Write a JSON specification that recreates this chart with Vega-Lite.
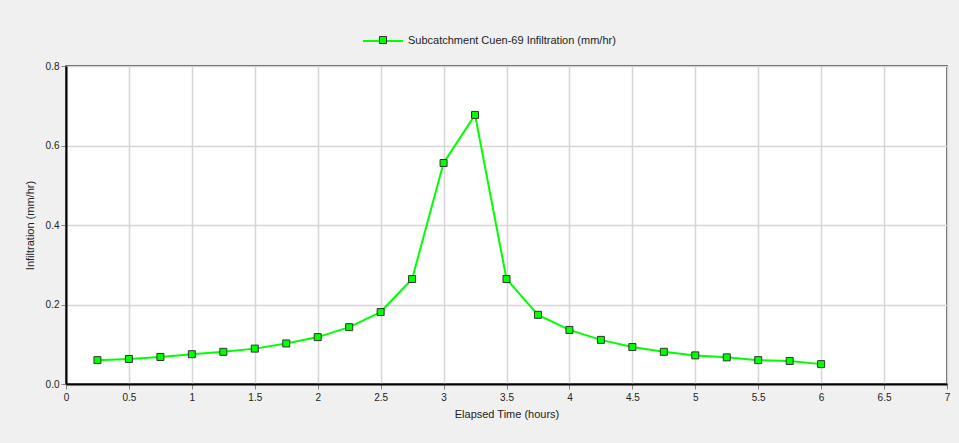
{
  "$schema": "https://vega.github.io/schema/vega-lite/v6.json",
  "autosize": {"type": "none"},
  "width": 881,
  "height": 318,
  "padding": {"left": 66, "top": 66, "right": 12, "bottom": 59},
  "background": "#f0f0f0",
  "view": {"fill": "white", "stroke": "#222", "strokeWidth": 1.5},
  "config": {
    "font": "Liberation Sans",
    "axis": {
      "labelFont": "Liberation Sans",
      "labelFontSize": 10,
      "labelColor": "#222",
      "titleFont": "Liberation Sans",
      "titleFontSize": 11,
      "titleFontWeight": "normal",
      "titleColor": "#222",
      "gridColor": "#d6d6d6",
      "gridWidth": 1.5,
      "domainColor": "#000",
      "domainWidth": 2,
      "tickColor": "#888",
      "tickSize": 5
    }
  },
  "data": {
    "values": [
      {"t": 0.25, "v": 0.060},
      {"t": 0.5, "v": 0.063},
      {"t": 0.75, "v": 0.068},
      {"t": 1.0, "v": 0.075},
      {"t": 1.25, "v": 0.081},
      {"t": 1.5, "v": 0.089},
      {"t": 1.75, "v": 0.102},
      {"t": 2.0, "v": 0.118},
      {"t": 2.25, "v": 0.143},
      {"t": 2.5, "v": 0.181},
      {"t": 2.75, "v": 0.264},
      {"t": 3.0, "v": 0.556},
      {"t": 3.25, "v": 0.677},
      {"t": 3.5, "v": 0.264},
      {"t": 3.75, "v": 0.174},
      {"t": 4.0, "v": 0.136},
      {"t": 4.25, "v": 0.111},
      {"t": 4.5, "v": 0.093},
      {"t": 4.75, "v": 0.081},
      {"t": 5.0, "v": 0.072},
      {"t": 5.25, "v": 0.067},
      {"t": 5.5, "v": 0.060},
      {"t": 5.75, "v": 0.058},
      {"t": 6.0, "v": 0.050}
    ]
  },
  "encoding": {
    "x": {
      "field": "t", "type": "quantitative",
      "scale": {"domain": [0, 7], "nice": false, "zero": false},
      "axis": {"values": [0,0.5,1,1.5,2,2.5,3,3.5,4,4.5,5,5.5,6,6.5,7], "format": ".1~f", "labelFlush": false, "title": "Elapsed Time (hours)", "titlePadding": 6, "labelPadding": 3}
    },
    "y": {
      "field": "v", "type": "quantitative",
      "scale": {"domain": [0, 0.8], "nice": false},
      "axis": {"values": [0, 0.2, 0.4, 0.6, 0.8], "format": ".1f", "title": "Infiltration (mm/hr)", "titlePadding": 10, "labelPadding": 2, "labelFlush": false}
    }
  },
  "layer": [
    {
      "mark": {"type": "line", "strokeWidth": 2},
      "encoding": {
        "stroke": {
          "datum": "Subcatchment Cuen-69 Infiltration (mm/hr)",
          "scale": {"range": ["#00ff00"]},
          "legend": {
            "orient": "none", "legendX": 296, "legendY": -46, "title": null,
            "symbolType": "stroke", "symbolSize": 1600, "symbolStrokeWidth": 2,
            "labelFontSize": 11, "labelColor": "#222", "labelFont": "Liberation Sans", "labelOffset": 4, "labelLimit": 400
          }
        }
      }
    },
    {
      "mark": {"type": "point", "shape": "square", "filled": true, "size": 49, "stroke": "#333", "strokeWidth": 1, "opacity": 1},
      "encoding": {
        "fill": {
          "datum": "marker",
          "scale": {"range": ["#00ff00"]},
          "legend": {
            "orient": "none", "legendX": 312, "legendY": -31, "title": null,
            "symbolType": "square", "symbolSize": 49, "symbolStrokeColor": "#333", "symbolStrokeWidth": 1,
            "labelExpr": "''", "symbolOpacity": 1
          }
        }
      }
    }
  ]
}
